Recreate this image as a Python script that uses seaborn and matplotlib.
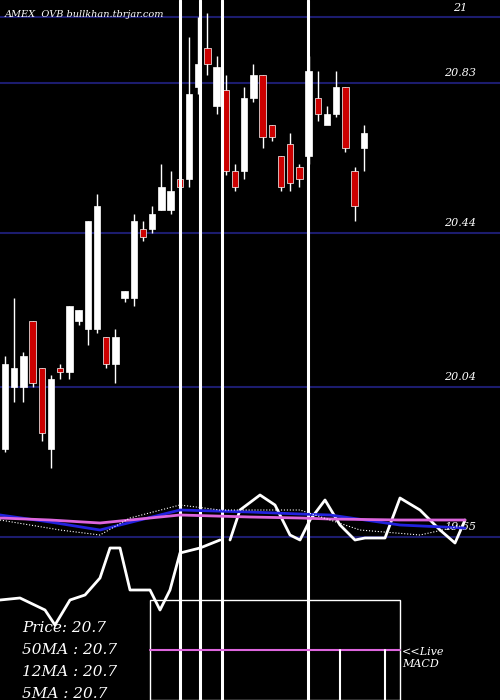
import matplotlib
matplotlib.use("Agg")
import matplotlib.pyplot as plt
import seaborn as sns
import numpy as np
from matplotlib.patches import Rectangle

sns.set_style("dark")
plt.rcParams['font.family'] = ['DejaVu Serif']

opens  = [19.88,20.04,20.04,20.21,20.09,19.88,20.09,20.08,20.21,20.19,20.19,20.17,20.10,20.27,20.27,20.45,20.45,20.50,20.50,20.58,20.58,20.82,20.92,20.77,20.81,20.60,20.60,20.79,20.85,20.72,20.64,20.67,20.61,20.64,20.79,20.72,20.75,20.82,20.60,20.66]
closes = [20.10,20.09,20.12,20.05,19.92,20.06,20.08,20.25,20.24,20.47,20.51,20.10,20.17,20.29,20.47,20.43,20.49,20.56,20.55,20.56,20.80,20.88,20.88,20.87,20.60,20.56,20.79,20.85,20.69,20.69,20.56,20.57,20.58,20.86,20.75,20.75,20.82,20.66,20.51,20.70]
highs  = [20.12,20.27,20.13,20.21,20.09,20.07,20.10,20.25,20.24,20.47,20.54,20.17,20.19,20.29,20.49,20.47,20.51,20.62,20.60,20.60,20.95,21.00,21.01,20.90,20.85,20.62,20.82,20.88,20.85,20.72,20.64,20.70,20.62,20.90,20.86,20.77,20.86,20.82,20.61,20.72]
lows   = [19.87,20.00,20.00,20.04,19.90,19.83,20.06,20.06,20.20,20.15,20.18,20.09,20.05,20.26,20.25,20.42,20.44,20.50,20.49,20.55,20.56,20.80,20.85,20.75,20.59,20.55,20.58,20.78,20.66,20.68,20.55,20.55,20.56,20.62,20.73,20.73,20.74,20.65,20.47,20.60]
hlines = [21.0, 20.83, 20.44, 20.04, 19.65]
hlabels = ["21", "20.83", "20.44", "20.04", "19.65"]
vlines_idx = [19.0, 21.2, 23.6, 32.9]

# indicator panel (arbitrary units)
ind_x = [0,20,45,55,70,85,100,110,120,130,140,150,160,170,180,200,220]
macd_lo = [100,102,90,75,100,105,122,152,152,110,110,110,90,110,147,152,160]
ind_x2 = [230,240,260,275,290,300,310,325,340,355,365,385,400,420,440,455,465]
macd_hi = [160,190,205,195,165,160,180,200,175,160,162,162,202,190,170,157,180]
ma_x = [0,50,100,180,250,300,330,400,465]
ma_pink = [182,180,177,185,183,182,181,180,180]
ma_blue = [185,178,170,190,188,186,185,175,172]
dot_x = [0,60,100,130,180,220,300,360,420,465]
dot_w = [180,170,165,182,195,190,190,170,165,175]

fig = plt.figure(figsize=(5, 7), dpi=100, facecolor="black")
ax = fig.add_axes([0, 0, 1, 1], facecolor="black")
ax.set_xlim(-0.54, 53.8)
ax.set_ylim(21.045 - 700/385, 21.045)
ax.axis("off")
for h, lab in zip(hlines, hlabels):
    ax.axhline(h, color="#1c1c6e", lw=1.5)
    ax.text(49.5, h + 0.012, lab, color="white", fontsize=8, ha="center", va="bottom", style="italic")
idx = np.arange(len(opens))
for i, o, c, hi, lo in zip(idx, opens, closes, highs, lows):
    col = "white" if c >= o else "#cc0000"
    ax.vlines(i, lo, hi, color="white", lw=1)
    ax.add_patch(Rectangle((i - 0.35, min(o, c)), 0.7, max(abs(c - o), 0.005),
                           facecolor=col, edgecolor="white", lw=0.5, zorder=3))
for v in vlines_idx:
    ax.axvline(v, color="white", lw=2.2, zorder=4)
ax.text(0, 21.02, "AMEX  OVB bullkhan.tbrjar.com", color="white", fontsize=7, va="top", style="italic")

ax2 = fig.add_axes([0, 0, 1, 1], facecolor="none")
ax2.set_xlim(0, 500); ax2.set_ylim(0, 700); ax2.axis("off")
sns.lineplot(x=ind_x, y=macd_lo, ax=ax2, color="white", lw=2)
sns.lineplot(x=ind_x2, y=macd_hi, ax=ax2, color="white", lw=2)
sns.lineplot(x=ma_x, y=ma_blue, ax=ax2, color="#2222dd", lw=2)
sns.lineplot(x=ma_x, y=ma_pink, ax=ax2, color="#dd66dd", lw=2)
sns.lineplot(x=dot_x, y=dot_w, ax=ax2, color="white", lw=0.8, linestyle=":")
ax2.add_patch(Rectangle((150, 0), 250, 100, fill=False, edgecolor="white", lw=1))
ax2.plot([150, 400], [50, 50], color="#dd66dd", lw=1.5)
ax2.plot([340, 340], [0, 50], color="white", lw=1.5)
ax2.plot([385, 385], [0, 50], color="white", lw=1.5)
for k, t in enumerate(["Price: 20.7", "50MA : 20.7", "12MA : 20.7", "5MA : 20.7"]):
    ax2.text(22, 72 - k * 22, t, color="white", fontsize=11, style="italic", va="center")
ax2.text(402, 42, "<<Live\nMACD", color="white", fontsize=8, style="italic", va="center")
fig.savefig("out.png", dpi=100, facecolor="black")
